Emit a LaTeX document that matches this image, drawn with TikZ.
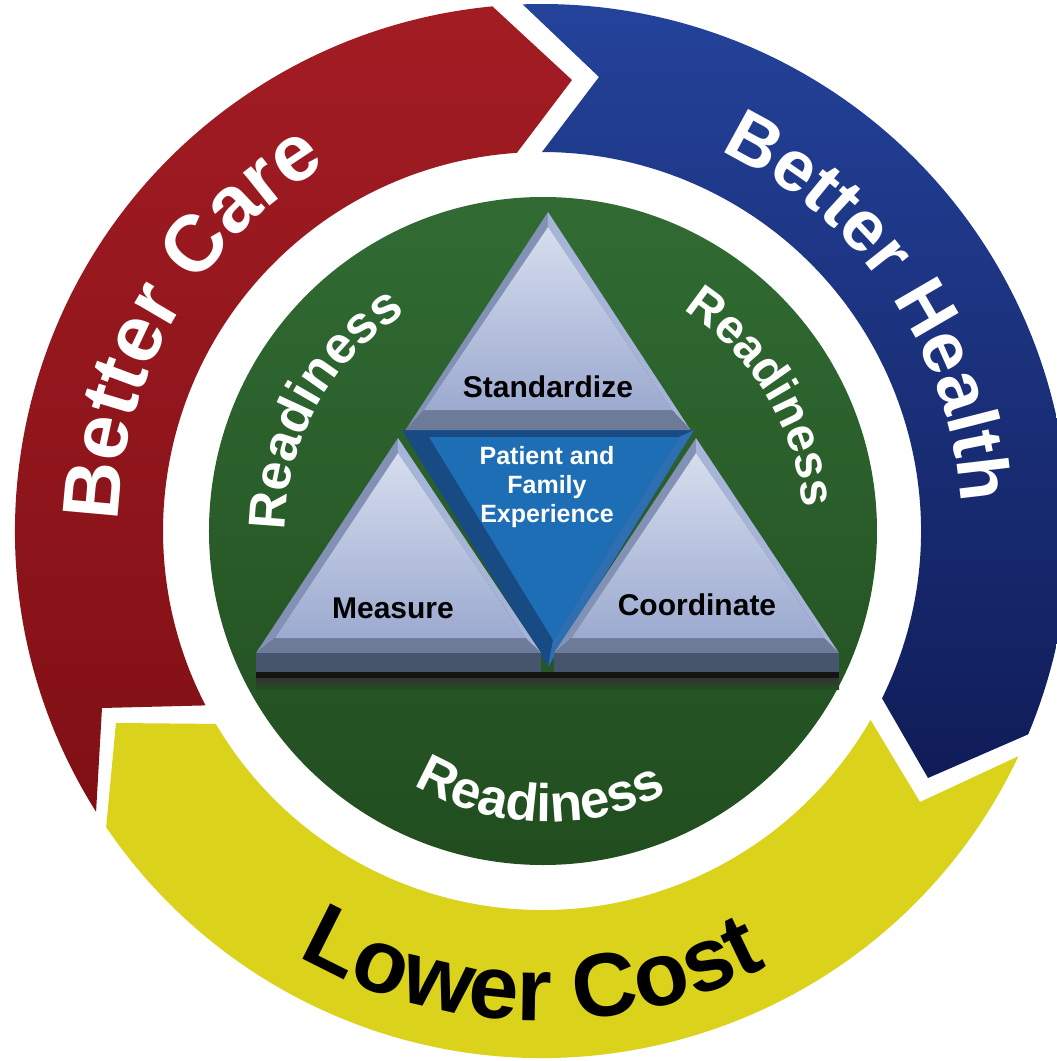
\documentclass[tikz,border=0pt]{standalone}
\usepackage{fontspec}
\setmainfont{Liberation Sans}
\usetikzlibrary{decorations.text}
\definecolor{redA}{HTML}{A31C24}
\definecolor{redB}{HTML}{801015}
\definecolor{blueA}{HTML}{24439B}
\definecolor{blueB}{HTML}{101C58}
\definecolor{yel}{HTML}{DBD31B}
\definecolor{greenA}{HTML}{316B33}
\definecolor{greenB}{HTML}{214D1F}
\definecolor{faceA}{HTML}{D6DDEE}
\definecolor{faceB}{HTML}{9CAAD0}
\definecolor{bevL}{HTML}{8391B6}
\definecolor{bevR}{HTML}{A6B4D7}
\definecolor{bevB}{HTML}{6E7B98}
\definecolor{frontc}{HTML}{46546C}
\definecolor{pfeA}{HTML}{184A84}
\definecolor{pfeB}{HTML}{2D6FB0}
\definecolor{pfeC}{HTML}{1E6EB6}
\begin{document}
\begin{tikzpicture}[x=1pt,y=1pt,
  arclabel/.style n args={3}{decorate,decoration={text along path,text align=center,
     text={|\fontsize{#1}{#1}\selectfont\bfseries\color{#2}|#3}}},
  tritext/.style={font=\fontsize{30}{36}\selectfont\bfseries,text=black,anchor=base,inner sep=0pt},
  pfetext/.style={font=\fontsize{25}{29}\selectfont\bfseries,text=white,align=center,inner sep=0pt}]
\useasboundingbox (-542,-530) rectangle (515,531);
\fill[white] (-542,-530) rectangle (515,531);

% ---- outer ring arrows ----
\shade[top color=redA,bottom color=redB]
  (212.2:527) arc[start angle=212.2,end angle=95.4,radius=527] -- (30,451)
  -- (93.8:379) arc[start angle=93.8,end angle=207.4,radius=379] -- (-440,-177) -- cycle;
\shade[top color=blueA,bottom color=blueB]
  (92.1:527) arc[start angle=92.1,end angle=-22.7,radius=527] -- (386,-247)
  -- (-26.2:379) arc[start angle=-26.2,end angle=90,radius=379] -- (57,454) -- cycle;
\fill[yel]
  (-25.3:527) arc[start angle=-25.3,end angle=-145.8,radius=527] -- (-426,-192)
  -- (-149.4:379) arc[start angle=-149.4,end angle=-29.9,radius=379] -- (378,-271) -- cycle;

% ---- green disc ----
\shade[top color=greenA,bottom color=greenB] (1,0) circle[radius=334];

% ---- central inverted triangle ----
\fill[pfeA] (-140,101) -- (152,101) -- (6,-136) -- cycle;
\fill[pfeB] (152,101) -- (6,-136) -- (11,-109) -- (137,94) -- cycle;
\fill[pfeC] (-113,94) -- (137,94) -- (11,-109) -- cycle;

% ---- top triangle ----
\coordinate (tA) at (6,319);   \coordinate (tL) at (-136.5,101); \coordinate (tR) at (148.5,101);
\coordinate (ta) at (6,304);   \coordinate (tl) at (-118,121);   \coordinate (tr) at (130,121);
\fill[bevL] (tA) -- (tL) -- (tl) -- (ta) -- cycle;
\fill[bevR] (tA) -- (ta) -- (tr) -- (tR) -- cycle;
\fill[bevB] (tl) -- (tr) -- (tR) -- (tL) -- cycle;
\shade[top color=faceA,bottom color=faceB] (ta) -- (tl) -- (tr) -- cycle;

% ---- left triangle ----
\coordinate (lA) at (-144,93);  \coordinate (lL) at (-286,-122); \coordinate (lR) at (-1,-122);
\coordinate (la) at (-144,78);  \coordinate (ll) at (-267,-107); \coordinate (lr) at (-16.5,-107);
\fill[bevL] (lA) -- (lL) -- (ll) -- (la) -- cycle;
\fill[bevR] (lA) -- (la) -- (lr) -- (lR) -- cycle;
\fill[bevB] (ll) -- (lr) -- (lR) -- (lL) -- cycle;
\shade[top color=faceA,bottom color=faceB] (la) -- (ll) -- (lr) -- cycle;
\fill[frontc] (lL) rectangle (-1,-141);

% ---- right triangle ----
\coordinate (rA) at (154,93);   \coordinate (rL) at (12,-122);   \coordinate (rR) at (297,-122);
\coordinate (ra) at (154,78);   \coordinate (rl) at (29.5,-107); \coordinate (rr) at (282,-107);
\fill[bevL] (rA) -- (rL) -- (rl) -- (ra) -- cycle;
\fill[bevR] (rA) -- (ra) -- (rr) -- (rR) -- cycle;
\fill[bevB] (rl) -- (rr) -- (rR) -- (rL) -- cycle;
\shade[top color=faceA,bottom color=faceB] (ra) -- (rl) -- (rr) -- cycle;
\fill[frontc] (rL) rectangle (297,-141);

% ---- base line and shadow ----
\fill[black!92] (-286,-141) rectangle (297,-147);
\shade[top color=black!80,bottom color=greenB!95!greenA] (-286,-147) rectangle (297,-158);

% ---- triangle texts ----
\node[tritext] (std) at (6,134) {Standardize};
\node[tritext] (mea) at (-149,-87) {Measure};
\node[tritext] (coo) at (155,-84) {Coordinate};
\node[pfetext] (pfe) at (5,44) {Patient and\\Family\\Experience};

% ---- curved texts ----
\path[arclabel={80}{white}{Better Care}]
  (219.6:424) arc[start angle=219.6,end angle=79.6,radius=424];
\path[arclabel={72}{white}{Better Health}]
  (104.3:420) arc[start angle=104.3,end angle=-35.7,radius=420];
\path[arclabel={90}{black}{Lower Cost}]
  (198.8:490) arc[start angle=198.8,end angle=338.8,radius=490];
\path[arclabel={52}{white}{Readiness}]
  (220.9:257) arc[start angle=220.9,end angle=80.9,radius=257];
\path[arclabel={48}{white}{Readiness}]
  (101.2:262) arc[start angle=101.2,end angle=-38.8,radius=262];
\path[shift={(6,-28)},arclabel={53}{white}{Readiness}]
  (198.2:263) arc[start angle=198.2,end angle=338.2,radius=263];
\end{tikzpicture}
\end{document}
